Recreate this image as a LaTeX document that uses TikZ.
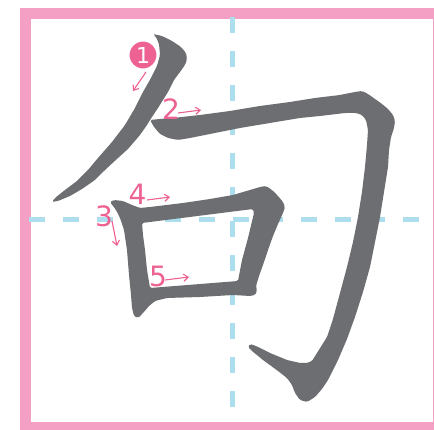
\documentclass[tikz,border=0pt]{standalone}
\usepackage{fontspec}
\setmainfont{DejaVu Sans}
\usetikzlibrary{arrows.meta}

\definecolor{frame}{RGB}{243,160,196}
\definecolor{guide}{RGB}{173,222,238}
\definecolor{ink}{RGB}{109,110,113}
\definecolor{mark}{RGB}{238,98,147}

\begin{document}
\begin{tikzpicture}[
  x=1pt, y=-1pt,
  >={Straight Barb[length=4.5pt, width=7pt]},
  border/.style={draw=frame, line width=11pt},
  grid/.style={draw=guide, line width=5pt, dash pattern=on 16pt off 18pt},
  stroke/.style={fill=ink, rounded corners=1.5pt},
  num/.style={text=mark, font=\fontsize{28}{28}\selectfont, inner sep=0pt, anchor=base},
  first/.style={circle, fill=mark, draw=white, line width=2pt, minimum size=29pt,
                inner sep=0pt, text=white, font=\fontsize{22}{22}\selectfont},
  order/.style={->, draw=mark, line width=1.1pt},
]
\useasboundingbox (0,0) rectangle (434,430);
\clip (0,0) rectangle (434,430);
\fill[white] (0,0) rectangle (434,430);

% ---- practice square ----
\draw[border] (25.5,13.5) rectangle (438.5,427.5);
\coordinate (vtop) at (232,17);
\coordinate (vbot) at (232,422);
\coordinate (hlft) at (29,220);
\coordinate (hrgt) at (434,220);
\draw[grid] (vtop) -- (vbot);
\draw[grid] (hlft) -- (hrgt);

% ---- stroke 1: left-falling ----
\fill[stroke] (153,34) -- (162,36) -- (172,41) -- (181,47) -- (186,53) -- (187,59)
  -- (185,65) -- (180,72) -- (174,80) -- (168,92) -- (158,108) -- (150,120)
  -- (147,125) -- (140,135) -- (128,149) -- (118,158) -- (105,170) -- (95,180)
  -- (82,189) -- (70,196) -- (58,201) -- (52,202) -- (55,198) -- (65,190)
  -- (77,181) -- (88,170) -- (98,158) -- (112,142) -- (125,125) -- (135,108)
  -- (143,92) -- (151,78) -- (157,66) -- (160,55) -- (159,44) -- (156,37) -- cycle;

% ---- stroke 2: horizontal, turn, hook ----
\fill[stroke] (150,120) -- (160,119) -- (173,118) -- (200,115) -- (230,111)
  -- (260,106) -- (290,102) -- (315,98) -- (340,95) -- (355,92) -- (362,91)
  -- (368,94) -- (375,99) -- (382,104) -- (388,109) -- (393,115) -- (395,121)
  -- (394,128) -- (391,137) -- (389,150) -- (388,167) -- (384,192) -- (380,217)
  -- (375,242) -- (370,267) -- (363,292) -- (355,317) -- (347,339) -- (338,360)
  -- (328,380) -- (322,389) -- (315,397) -- (307,402) -- (300,400) -- (295,393)
  -- (292,385) -- (287,378) -- (278,371) -- (263,360) -- (252,351) -- (248,347)
  -- (250,344) -- (256,346) -- (270,353) -- (287,360) -- (300,363) -- (307,363)
  -- (312,361) -- (317,353) -- (322,345) -- (327,337) -- (333,319) -- (340,293)
  -- (347,267) -- (353,242) -- (358,217) -- (362,192) -- (365,167) -- (367,145)
  -- (368,130) -- (366,120) -- (362,115) -- (356,113) -- (345,113) -- (320,116)
  -- (300,118) -- (270,123) -- (240,128) -- (215,133) -- (190,138) -- (178,140)
  -- (168,138) -- (160,134) -- (154,127) -- cycle;

% ---- strokes 3, 4, 5: the mouth ----
\fill[stroke, even odd rule] (110,202) -- (114,200) -- (123,201) -- (132,205)
  -- (140,208) -- (150,207) -- (183,203) -- (210,199) -- (233,195) -- (250,190)
  -- (260,187) -- (266,186) -- (272,190) -- (278,196) -- (283,202) -- (285,207)
  -- (283,213) -- (278,224) -- (273,236) -- (268,250) -- (264,262) -- (259,276)
  -- (256,286) -- (257,291) -- (255,295) -- (250,296) -- (233,295) -- (200,297)
  -- (167,298) -- (155,301) -- (149,306) -- (143,313) -- (138,318) -- (134,316)
  -- (132,308) -- (131,295) -- (129,275) -- (127,250) -- (124,230) -- (120,218)
  -- (116,210) -- cycle
  (142,223) -- (253,209) -- (254,213) -- (248,238) -- (242,260) -- (238,281)
  -- (150,288) -- (147,270) -- (145,250) -- (143,235) -- cycle;

% ---- stroke order marks ----
\node[first] (n1) at (143,55) {1};
\node[num] (n2) at (171,120) {2};
\node[num] (n3) at (104,227) {3};
\node[num] (n4) at (137.5,205) {4};
\node[num] (n5) at (158,287) {5};

\coordinate (s1) at (146,72);  \coordinate (e1) at (133,91);
\coordinate (s2) at (178,113); \coordinate (e2) at (201,110);
\coordinate (s3) at (112,221); \coordinate (e3) at (117,246);
\coordinate (s4) at (147,200); \coordinate (e4) at (170,197);
\coordinate (s5) at (165,280); \coordinate (e5) at (189,277);
\draw[order] (s1) -- (e1);
\draw[order] (s2) -- (e2);
\draw[order] (s3) -- (e3);
\draw[order] (s4) -- (e4);
\draw[order] (s5) -- (e5);
\end{tikzpicture}
\end{document}
